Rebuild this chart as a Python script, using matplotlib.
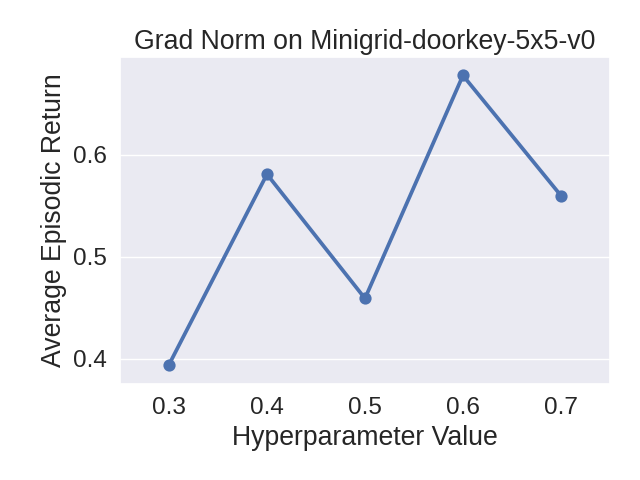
import matplotlib
matplotlib.use("Agg")
from matplotlib import pyplot as plt
from matplotlib.ticker import MultipleLocator
import seaborn as sns

hyperparams = ["0.3", "0.4", "0.5", "0.6", "0.7"]
returns = [0.394, 0.581, 0.459, 0.678, 0.560]

sns.set_theme(style="darkgrid", font_scale=1.6)
plt.rcParams['font.family'] = ['Liberation Sans', 'DejaVu Sans']

fig, ax = plt.subplots(figsize=(6.4, 4.8), dpi=100)
sns.pointplot(x=hyperparams, y=returns, ax=ax, color="#4c72b0")
ax.yaxis.set_major_locator(MultipleLocator(0.1))
ax.set_ylim(0.375, 0.696)
ax.set_title("Grad Norm on Minigrid-doorkey-5x5-v0")
ax.set_xlabel("Hyperparameter Value")
ax.set_ylabel("Average Episodic Return")
fig.subplots_adjust(left=0.1875, right=0.953, top=0.881, bottom=0.2)
fig.savefig("out.png")
